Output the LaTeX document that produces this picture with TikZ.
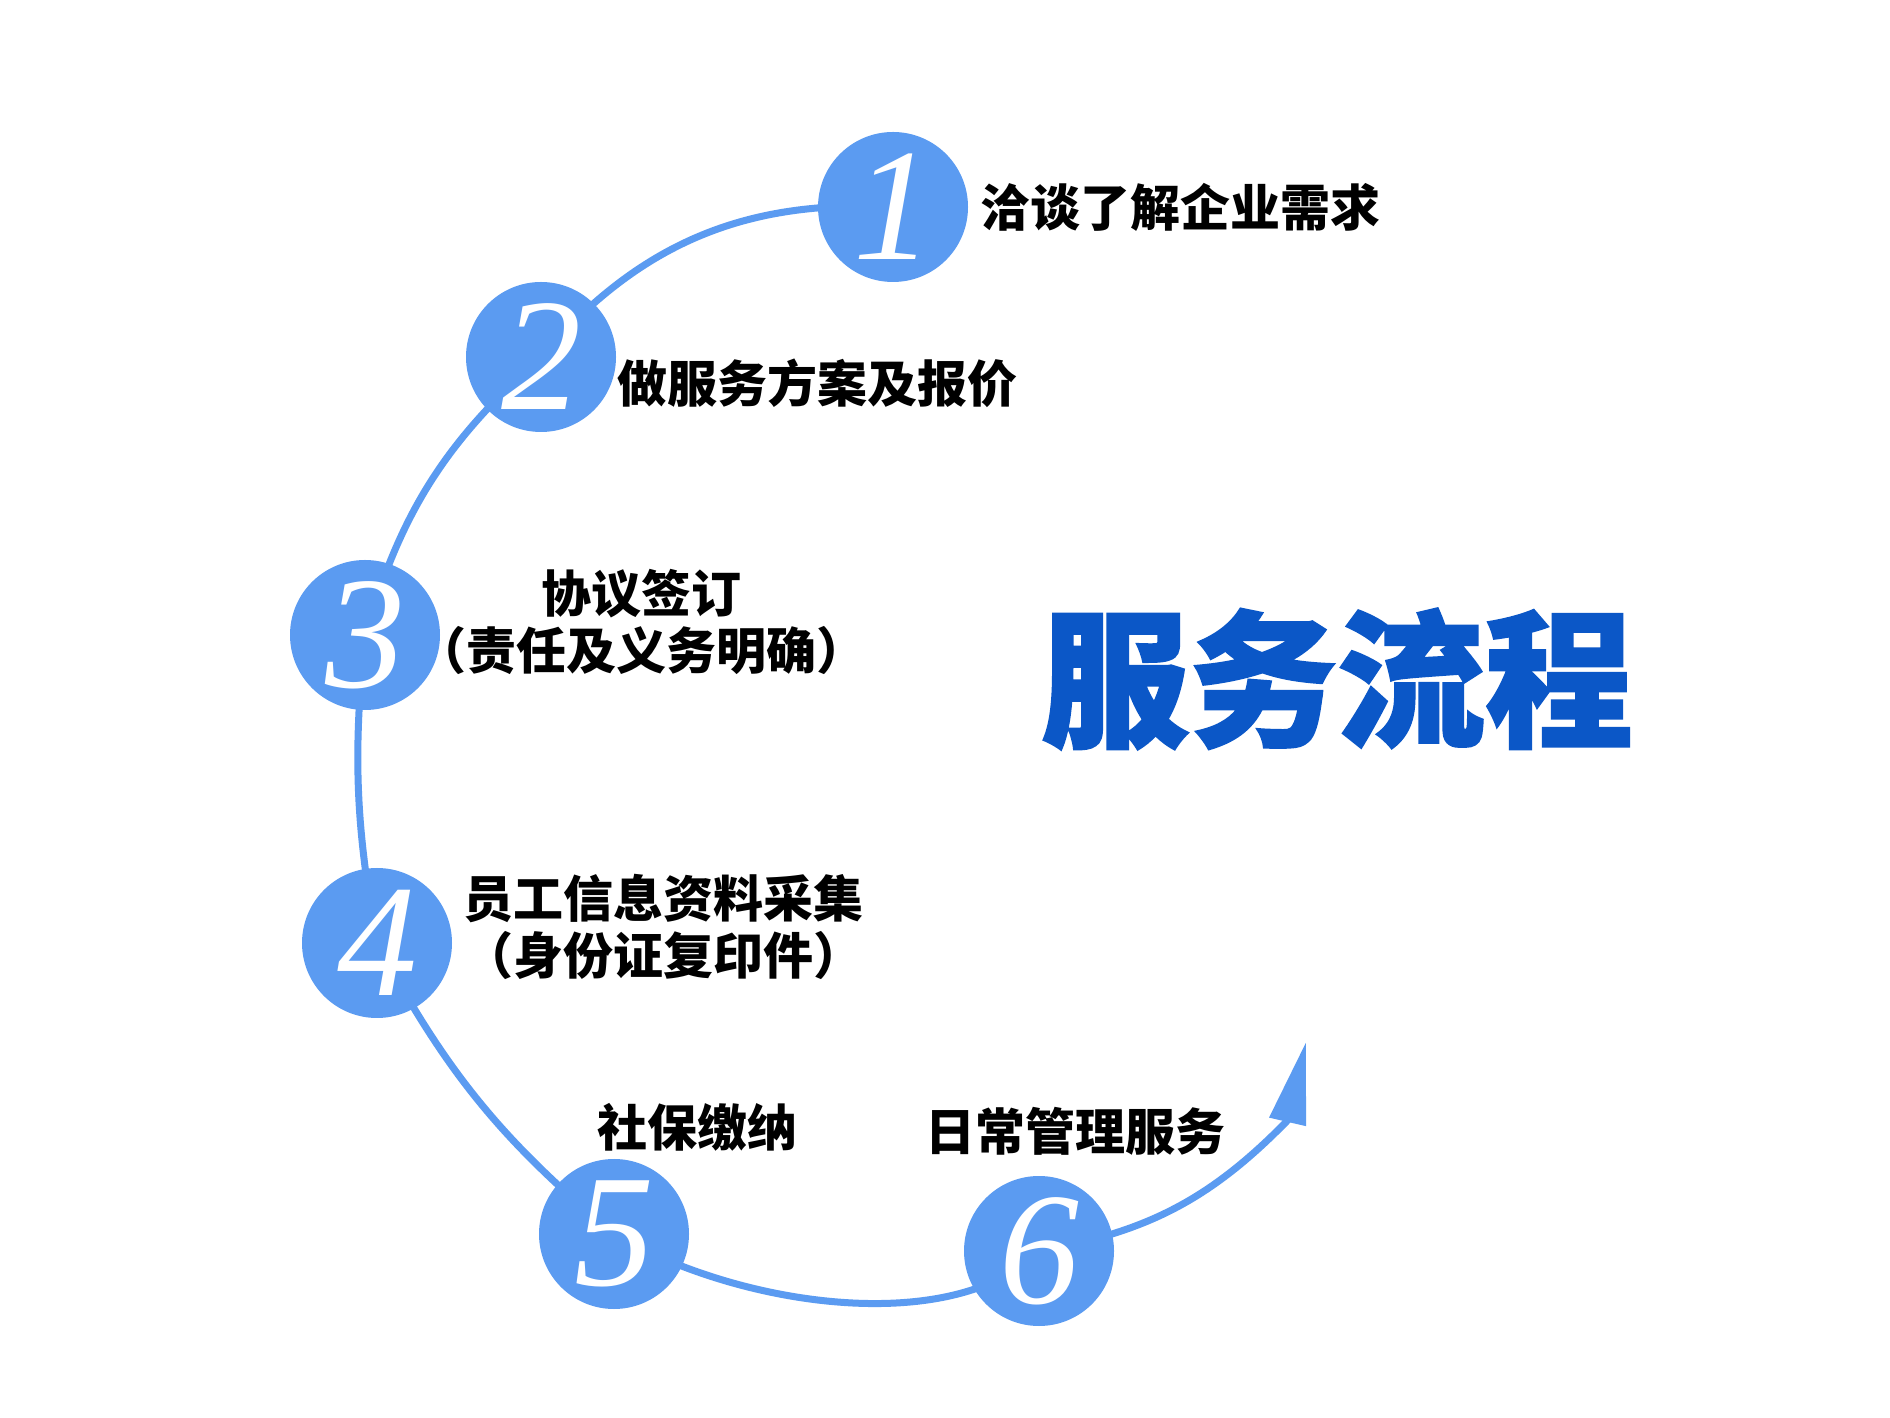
\documentclass[tikz,border=0pt]{standalone}
\usepackage{fontspec}
\usetikzlibrary{arrows.meta}
\newfontfamily\cjk{Noto Sans CJK SC}
\newfontfamily\cjkheavy{Noto Sans CJK SC}[BoldFeatures={FakeBold=1.5}]
\newfontfamily\digitfont{Liberation Serif}
\definecolor{cblue}{RGB}{91,155,241}
\definecolor{tblue}{RGB}{11,87,199}
\pgfdeclarelayer{bg}
\pgfsetlayers{bg,main}
\begin{document}
\begin{tikzpicture}[x=1pt,y=1pt,
  numnode/.style={circle, fill=cblue, minimum size=150pt, inner sep=0pt, text=white,
    font=\digitfont\itshape\fontsize{160pt}{160pt}\selectfont},
  lbl/.style={text=black, inner sep=0pt, align=center,
    font=\cjk\bfseries\fontsize{50pt}{57pt}\selectfont},
  titletext/.style={inner sep=0pt, font=\cjkheavy\bfseries\fontsize{148pt}{150pt}\selectfont},
  flow/.style={draw=cblue, line width=7pt, line join=round}
]
\useasboundingbox (0,0) rectangle (1890,1417);

% numbered circles
\node[numnode] (n1) at (893,1210) {1};
\node[numnode] (n2) at (541,1060) {2};
\node[numnode] (n3) at (365,782) {3};
\node[numnode] (n4) at (377,474) {4};
\node[numnode] (n5) at (614,183) {5};
\node[numnode] (n6) at (1039,166) {6};
\coordinate (abase) at (1288,297);
\coordinate (tip) at (1306,375);

% labels
\node[lbl, anchor=west] (t1) at (980,1210) {洽谈了解企业需求};
\node[lbl, anchor=west] (t2) at (617,1034) {做服务方案及报价};
\node[lbl] (t3) at (641,795) {协议签订\\（责任及义务明确）};
\node[lbl] (t4) at (663,490) {员工信息资料采集\\（身份证复印件）};
\node[lbl] (t5) at (697,290) {社保缴纳};
\node[lbl] (t6) at (1075,286) {日常管理服务};

% title
\node[titletext, text=tblue] (title) at (1337,738) {服务流程};

% background and connector
\begin{pgfonlayer}{bg}
\fill[white] (0,0) rectangle (1890,1417);
\draw[flow, -{Triangle[length=82pt,width=36pt]}]
  (n1.center) to[bend right=26] (n2.center)
  to[bend right=16] (n3.center)
  to[bend right=8] (n4.center)
  to[bend right=11] (n5.center)
  to[out=-30, in=225, out distance=150pt, in distance=120pt] (n6.center)
  to[bend right=18] (abase) -- (tip);
\end{pgfonlayer}
\end{tikzpicture}
\end{document}
